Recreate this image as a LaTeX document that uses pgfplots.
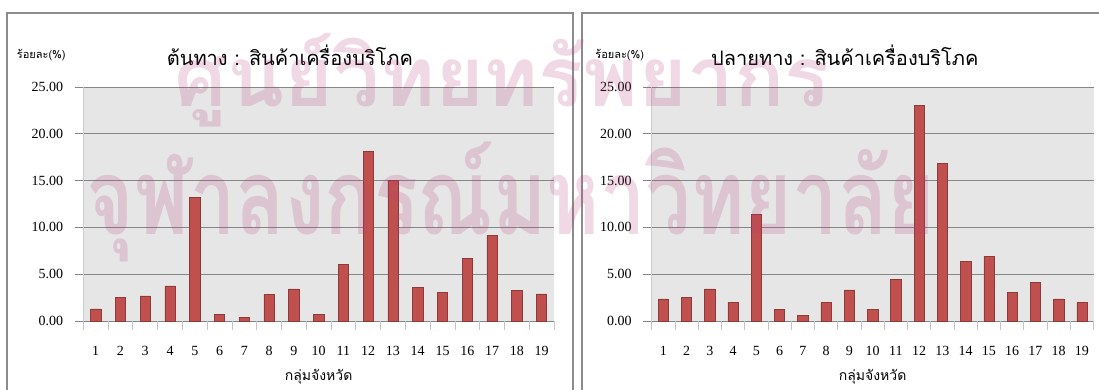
\documentclass[border=0pt]{standalone}
\usepackage{fontspec}
\setmainfont{Liberation Serif}
\newfontfamily\thaifont[Script=Thai]{Loma}
\usepackage{graphicx}
\usepackage{pgfplots}
\pgfplotsset{compat=1.18}
\definecolor{barred}{HTML}{C0504D}
\definecolor{baredge}{HTML}{8E3A38}
\definecolor{plotbg}{HTML}{E6E6E6}
\definecolor{gridc}{HTML}{868686}
\definecolor{framec}{HTML}{8C8C8C}
\definecolor{wm}{RGB}{180,60,120}

\pgfplotstableread{
g v
1 1.30
2 2.48
3 2.69
4 3.76
5 13.19
6 0.67
7 0.35
8 2.80
9 3.44
10 0.74
11 6.08
12 18.09
13 15.00
14 3.62
15 3.09
16 6.72
17 9.15
18 3.30
19 2.90
}\origin

\pgfplotstableread{
g v
1 2.37
2 2.55
3 3.44
4 2.02
5 11.38
6 1.20
7 0.56
8 2.02
9 3.33
10 1.20
11 4.47
12 23.05
13 16.81
14 6.38
15 6.91
16 3.09
17 4.15
18 2.37
19 2.02
}\destin

\pgfplotsset{
  panel/.style={
    scale only axis, anchor=south west,
    height=234pt,
    ymin=0, ymax=25, xmin=0.5, xmax=19.5,
    axis background/.style={fill=plotbg},
    axis x line*=bottom, axis y line*=left,
    x axis line style={draw=gridc, line width=0.9pt, -},
    y axis line style={draw=gray!40, line width=0.8pt, -},
    ytick={0,5,...,25},
    ymajorgrids, major grid style={draw=gridc, line width=0.9pt},
    tick align=outside,
    major tick length=8.6pt,
    ytick style={draw=gridc, line width=0.9pt},
    xtick={1,...,19},
    xtick style={draw=none},
    extra x ticks={0.5,1.5,...,19.5},
    extra x tick labels={},
    extra x tick style={xtick style={draw=gray!45, line width=0.8pt}},
    /pgf/number format/assume math mode=true,
    yticklabel style={/pgf/number format/.cd, fixed, fixed zerofill, precision=2, /tikz/.cd, font=\fontsize{14}{14}\selectfont, xshift=-8pt},
    xticklabel style={font=\fontsize{14}{14}\selectfont, yshift=-13pt},
    every axis x label/.style={at={(axis description cs:0.5,0)}, anchor=center, yshift=-56pt, font=\thaifont\fontsize{14}{14}\selectfont},
    every axis y label/.style={at={(axis description cs:0,1)}, anchor=center, yshift=32pt, font=\thaifont\fontsize{11}{11}\selectfont},
    every axis title/.style={anchor=center, yshift=32pt, font=\thaifont\fontsize{20}{20}\selectfont},
    xlabel={กลุ่มจังหวัด},
    ylabel={ร้อยละ(\%)},
  },
  mybar/.style={ybar, bar width=10.3pt, fill=barred, draw=baredge, line width=0.6pt}
}

\begin{document}
\begin{tikzpicture}[x=1pt,y=1pt]
\useasboundingbox (0,0) rectangle (1099,389);
\fill[white] (0,0) rectangle (1099,389);
\begin{scope}
\clip (0,0) rectangle (1099,389);
\draw[framec, line width=1.3pt] (7,376) rectangle (573,-10);
\draw[framec, line width=1.3pt] (582,376) rectangle (1110,-10);

\begin{axis}[panel, at={(83.3pt,68pt)}, width=470.7pt,
  title={ต้นทาง : สินค้าเครื่องบริโภค},
  title style={at={(axis description cs:0.439,1)}},
  ylabel style={xshift=-42pt}]
\addplot[mybar] table[x=g,y=v]{\origin};
\end{axis}

\begin{axis}[panel, at={(651.7pt,68pt)}, width=441.9pt,
  title={ปลายทาง : สินค้าเครื่องบริโภค},
  title style={at={(axis description cs:0.437,1)}},
  ylabel style={xshift=-32pt}]
\addplot[mybar] table[x=g,y=v]{\destin};
\end{axis}

\node[anchor=north, inner sep=0pt, opacity=0.2, text=wm] at (502,356)
  {\resizebox{655pt}{!}{\thaifont\bfseries ศูนย์วิทยทรัพยากร}};
\node[anchor=north, inner sep=0pt, opacity=0.2, text=wm] at (511,247)
  {\scalebox{1}[1.3]{\resizebox{848pt}{!}{\thaifont\bfseries จุฬาลงกรณ์มหาวิทยาลัย}}};
\end{scope}
\end{tikzpicture}
\end{document}
